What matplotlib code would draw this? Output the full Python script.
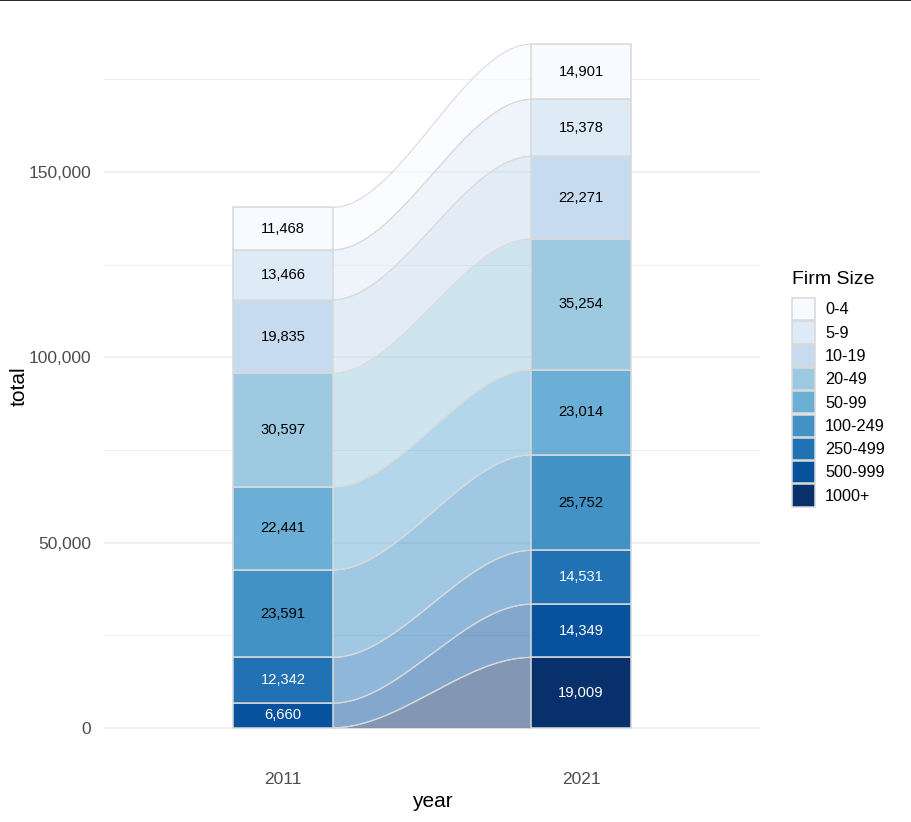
import numpy as np
import matplotlib
matplotlib.use('Agg')
import matplotlib.pyplot as plt
from matplotlib.patches import Patch
from matplotlib.lines import Line2D

plt.rcParams['font.family'] = ['Liberation Sans', 'DejaVu Sans']

years = ['2011', '2021']
sizes = ['0-4', '5-9', '10-19', '20-49', '50-99', '100-249', '250-499', '500-999', '1000+']
v2011 = [11468, 13466, 19835, 30597, 22441, 23591, 12342, 6660, 0]
v2021 = [14901, 15378, 22271, 35254, 23014, 25752, 14531, 14349, 19009]
blues = ['#F7FBFF', '#DEEBF7', '#C6DBEF', '#9ECAE1', '#6BAED6',
         '#4292C6', '#2171B5', '#08519C', '#08306B']
white_text = ['250-499', '500-999', '1000+']

fig = plt.figure(figsize=(9.12, 8.22), dpi=100)
ax = fig.add_axes([104/912, 1-762/822, (760-104)/912, (762-10)/822])

vals = np.array([v2011, v2021], dtype=float)  # shape (2, 9)
# stack from bottom: last category at bottom
order = list(range(len(sizes)))[::-1]
bottoms = np.zeros((2, len(sizes)))
tops = np.zeros((2, len(sizes)))
for j in range(2):
    acc = 0.0
    for i in order:
        bottoms[j, i] = acc
        acc += vals[j, i]
        tops[j, i] = acc

w = 1/3
xs = [1, 2]
# flows between bar edges
x0, x1 = 1 + w/2, 2 - w/2
t = np.linspace(0, 1, 200)
s = 3*t**2 - 2*t**3
xx = x0 + (x1 - x0)*t
for i in order:
    lo = bottoms[0, i] + (bottoms[1, i] - bottoms[0, i])*s
    hi = tops[0, i] + (tops[1, i] - tops[0, i])*s
    ax.fill_between(xx, lo, hi, color=blues[i], alpha=0.5, lw=0, zorder=2)
    ax.plot(xx, hi, color='#DADADA', lw=0.8, zorder=2.5)
    ax.plot(xx, lo, color='#DADADA', lw=0.8, zorder=2.5)

# bars
for j in range(2):
    for i in order:
        if vals[j, i] <= 0:
            continue
        ax.bar(xs[j], vals[j, i], bottom=bottoms[j, i], width=w,
               color=blues[i], edgecolor='#D9D9D9', linewidth=1.1, zorder=3)
        ax.text(xs[j], bottoms[j, i] + vals[j, i]/2, f'{int(vals[j, i]):,}',
                ha='center', va='center', fontsize=10.6, zorder=4,
                color='white' if sizes[i] in white_text else 'black')

ymax = vals.sum(axis=1).max()
ax.set_ylim(-0.05*ymax, 1.05*ymax)
ax.set_xlim(0.4, 2.6)
ax.set_xticks(xs)
ax.set_xticklabels(years)
ax.set_yticks([0, 50000, 100000, 150000])
ax.set_yticklabels(['0', '50,000', '100,000', '150,000'])
ax.set_yticks([25000, 75000, 125000, 175000], minor=True)
ax.grid(axis='y', which='major', color='#EBEBEB', lw=1.1, zorder=0)
ax.grid(axis='y', which='minor', color='#EBEBEB', lw=0.6, zorder=0)
ax.set_axisbelow(True)
for sp in ax.spines.values():
    sp.set_visible(False)
ax.tick_params(axis='both', which='both', length=0, labelsize=12.5, colors='#4D4D4D')
ax.tick_params(axis='x', pad=7)
ax.tick_params(axis='y', pad=9)
ax.set_xlabel('year', fontsize=15, labelpad=4)
ax.set_ylabel('total', fontsize=15, labelpad=0)

handles = [Patch(facecolor=blues[i], edgecolor='#D9D9D9', linewidth=1.1) for i in range(len(sizes))]
leg = fig.legend(handles, sizes, title='Firm Size', loc='center left',
                 bbox_to_anchor=(786/912, 1-389/822), frameon=False,
                 fontsize=11.7, title_fontsize=14, handlelength=1.36,
                 handleheight=1.72, labelspacing=0.07, handletextpad=0.65,
                 borderaxespad=0)
leg._legend_box.align = 'left'
leg._legend_box.sep = 7

fig.add_artist(Line2D([0, 1], [1-0.5/822, 1-0.5/822], color='black', lw=1.2,
                      transform=fig.transFigure))

fig.savefig('out.png', dpi=100)
